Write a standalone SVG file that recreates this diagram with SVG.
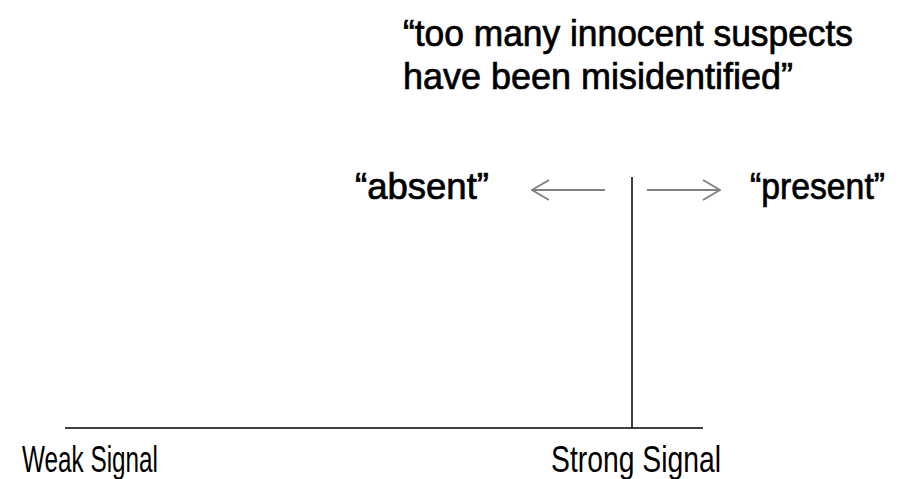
<svg xmlns="http://www.w3.org/2000/svg" width="904" height="479" viewBox="0 0 904 479">
  <style>
    .q { font-family: "Liberation Sans", Arial, sans-serif; font-size: 36px; fill: #000; stroke: #000; stroke-width: 0.7; }
    .lbl { font-family: "Liberation Sans", Arial, sans-serif; font-size: 36px; fill: #000; }
    .axis { stroke: #000; stroke-width: 1.5; fill: none; }
    .arr { stroke: #808080; stroke-width: 1.8; fill: none; }
  </style>
  <defs>
    <marker id="chev" viewBox="0 0 20 24" refX="19" refY="12" markerWidth="20" markerHeight="24" markerUnits="userSpaceOnUse" orient="auto">
      <path d="M2,2 L19,12 L2,22" fill="none" stroke="#808080" stroke-width="1.8"/>
    </marker>
  </defs>
  <rect width="904" height="479" fill="#fff"/>
  <g id="title">
    <text class="q" x="403" y="46" textLength="450" lengthAdjust="spacingAndGlyphs">“too many innocent suspects</text>
    <text class="q" x="403" y="89" textLength="390" lengthAdjust="spacingAndGlyphs">have been misidentified”</text>
  </g>
  <g id="absent">
    <text class="q" x="355" y="199" textLength="134" lengthAdjust="spacingAndGlyphs">“absent”</text>
  </g>
  <g id="present">
    <text class="q" x="750" y="199" textLength="135" lengthAdjust="spacingAndGlyphs">“present”</text>
  </g>
  <g id="weak">
    <text class="lbl" x="22" y="472" textLength="136" lengthAdjust="spacingAndGlyphs">Weak Signal</text>
  </g>
  <g id="strong">
    <text class="lbl" x="551" y="472" textLength="170" lengthAdjust="spacingAndGlyphs">Strong Signal</text>
  </g>
  <g id="connectors">
    <line class="axis" x1="65" y1="428" x2="703" y2="428"/>
    <line class="axis" x1="632" y1="177" x2="632" y2="428"/>
    <line class="arr" x1="605" y1="190" x2="532" y2="190" marker-end="url(#chev)"/>
    <line class="arr" x1="647" y1="190" x2="720" y2="190" marker-end="url(#chev)"/>
  </g>
</svg>
